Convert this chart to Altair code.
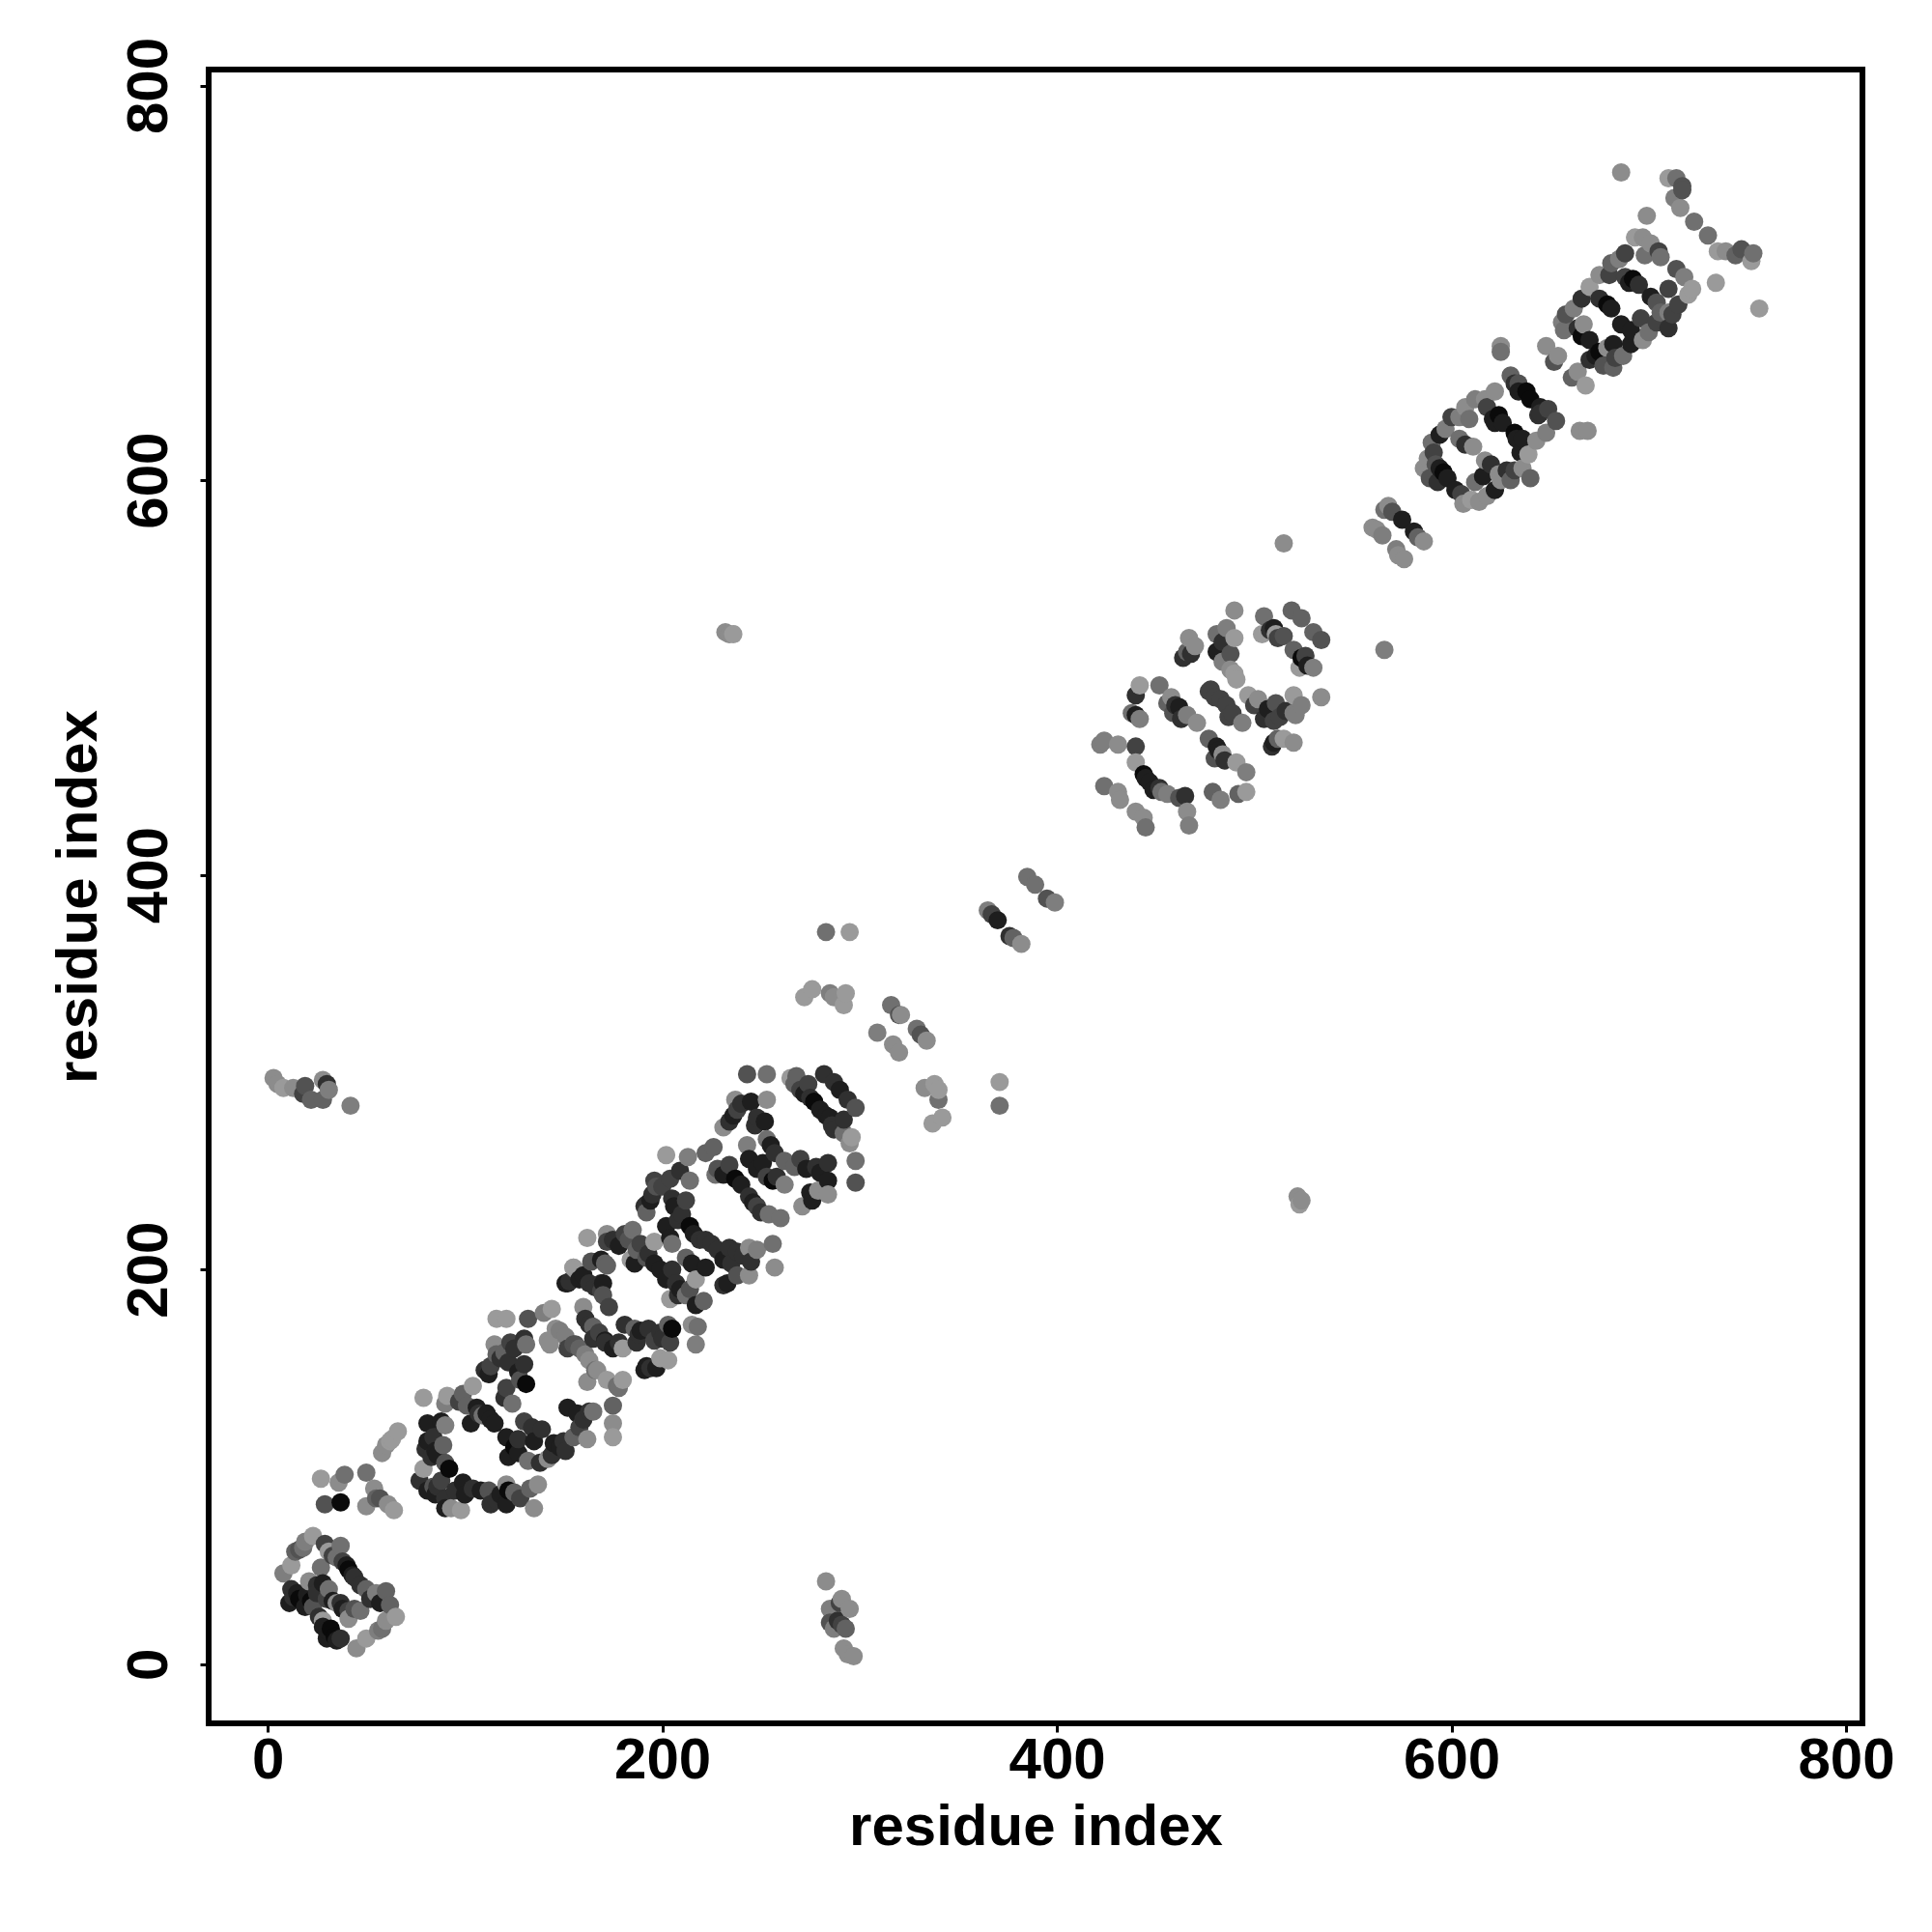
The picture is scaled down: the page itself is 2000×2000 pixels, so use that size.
import altair as alt
import pandas as pd

# contact points as (residue i, residue j, grey step 0-9)
box_a = [(23,65,9),(19,62,7),(18,59,6),(29,61,3),(31,57,9),(37,60,6),(35,54,6),(38,52,3),(41,48,0),
 (47,40,2),(50,38,5),(55,36,7),(60,37,5),(57,31,1),(62,30,5),(65,24,9),(60,22,8),(58,18,6),(56,17,7),
 (12,50,9),(8,46,7),(27,49,6),(21,42,8),(25,40,2),(28,41,1),(31,38,6),(25,36,2),(35,31,8),(37,31,2),
 (41,27,3),(47,27,6),(41,23,8),(38,28,1),(12,38,2),(11,31,1),(16,33,0),(13,34,2),(23,29,4),(19,29,1),
 (28,22,9),(28,19,1),(32,18,0),(30,13,1),(37,13,2),(34,14,0),(50,13,9),(45,8,8),
 (44,44,2),(43,45,1),(33,55,3),(40,50,1),(52,33,2),(20,35,1),(15,36,1),(22,32,0),(30,33,3),(33,32,1),
 (44,28,4),(26,24,2),(30,17,1),(35,12,1),(14,57,5),(16,58,4)]
box_b = [(27,94,9),(29,81,4),(37,82,0),(36,92,8),(39,96,6),(50,97,6),(50,80,8),(54,89,8),(55,84,5),(57,84,4),
 (61,81,8),(64,78,9),(58,107,8),(60,111,8),(63,114,9),(66,118,9),(62,113,9)]
loop_c = [(79,135,9),(91,136,9),(90,132,7),(104,141,9),(99,137,5),(81,122,1),(88,123,1),(90,121,7),(81,113,1),
 (80,109,2),(89,111,5),(83,105,2),(90,102,4),(92,99,0),(79,99,9),(77,93,2),(84,90,4),(81,88,1),(90,84,2),
 (93,79,8),(98,78,9),(90,79,1),(99,92,1),(104,89,2),(108,88,1),(112,88,4),(113,81,2),(121,81,1),(121,91,8),
 (125,87,5),(122,88,0),(133,89,5),(137,91,8),(135,79,8),(101,131,5),(106,130,1),(111,127,1),(115,122,1),
 (103,122,1),(109,126,6),(121,140,3),(120,135,2),(124,132,6),(121,115,1),(125,110,0),(122,105,1),(132,103,6),
 (142,104,8),(138,102,2),(130,123,3),(134,120,2),(139,119,2),(148,110,1),(155,115,5),(162,114,8),(151,108,2),
 (158,120,3),(152,130,1),(163,128,2),(165,128,6),(175,131,5),(175,122,8),(175,115,9),
 (85,108,1),(86,106,1),(84,115,2),(88,93,3),(95,88,2),(100,86,1),(116,83,2),(118,86,1),(128,84,3),(107,127,2),
 (113,124,1),(97,133,3),(127,107,1),(127,114,2),(144,106,2),(145,112,1),(150,113,2),(160,124,2),(157,127,1),
 (135,113,1),(86,90,2),(85,86,1)]
loop_d = [(116,175,9),(121,175,9),(132,175,4),(144,180,9),(140,178,7),(113,151,3),(110,149,2),(116,157,5),(123,163,3),
 (130,165,2),(131,162,6),(115,162,8),(122,153,2),(130,152,2),(131,142,0),(128,144,4),(142,164,8),(146,170,8),
 (151,166,7),(156,162,4),(163,154,8),(161,157,7),(167,149,8),(172,144,9),(180,144,9),(177,141,6),(161,175,2),
 (165,171,5),(160,181,8),(171,164,1),(175,160,1),(180,160,9),(173,181,3),(169,193,2),(155,201,9),(151,193,1),(172,202,5),
 (148,169,7),(143,162,8),(155,162,4),(166,149,6),(162,143,8),(178,140,6),(171,163,2),(181,172,2),(186,170,5),
 (193,170,2),(189,169,1),(205,170,0),(203,172,5),(204,163,3),(196,164,3),(192,151,1),(191,149,1),(194,150,2),
 (199,155,9),(203,154,9),(218,171,6),(217,162,7),(215,172,8),
 (118,155,2),(112,147,1),(125,160,2),(127,148,1),(152,160,3),(158,160,5),(187,163,2),(188,167,2),(199,168,2),
 (197,150,1),(200,165,2),(165,165,2),(168,168,3),(178,163,2),(163,172,2),(120,158,5)]
loop_e = [(162,216,9),(172,218,8),(172,214,3),(185,220,6),(181,218,3),(189,213,3),(187,210,5),(196,203,1),(192,206,4),
 (184,205,9),(186,203,1),(202,222,1),(205,213,6),(196,214,9),(204,216,1),(202,195,1),(207,193,2),(204,185,9),
 (212,187,6),(217,195,9),(221,184,5),(217,182,1),(215,203,1),(212,206,5),(222,201,1),(155,201,9),(152,193,1),
 (156,200,9),(153,194,2),(164,204,4),(171,203,5),(169,205,1),(163,193,2),(170,193,1),(169,189,3),(170,187,4),
 (212,235,3),(214,222,0),(210,228,2),(205,236,2),(214,245,6),(209,250,2),(213,257,7),(202,258,9),(196,245,3),
 (192,233,2),(191,232,2),(197,242,4),(192,229,5),(204,246,3),(222,215,2),(228,210,2),(234,211,2),(235,203,2),
 (245,204,2),(248,210,7),(256,213,6),(257,201,8),(244,211,8),(233,193,1),(231,192,2),(238,197,4),(244,197,8),
 (160,197,1),(158,195,1),(166,191,2),(175,215,2),(178,212,1),(183,215,4),(193,208,2),(199,200,1),(205,200,2),
 (208,187,2),(209,190,1),(214,190,4),(206,232,1),(208,225,2),(216,218,1),(219,215,2),(225,213,2),(231,205,1),
 (241,207,2),(238,209,2),(194,235,1),(195,238,2),(200,242,3)]
loop_f = [(226,262,5),(222,259,5),(228,251,4),(231,248,1),(237,246,0),(227,248,6),(244,237,2),(248,232,3),(254,228,6),
 (260,226,6),(243,263,7),(244,256,1),(251,254,1),(256,245,0),(262,243,7),(253,247,3),(245,285,1),(238,281,3),
 (234,275,2),(231,272,8),(237,286,8),(253,286,8),(252,275,1),(255,263,1),(253,266,6),(248,277,2),(262,255,5),
 (267,252,5),(273,251,1),(278,252,2),(284,254,2),(298,255,6),(298,244,4),(284,245,1),(284,238,8),(271,232,8),
 (276,235,1),(279,240,8),(243,299,4),(253,299,6),(265,297,9),(267,294,5),(272,289,1),(277,285,0),(270,291,3),
 (282,299,2),(287,295,2),(294,286,2),(298,282,4),(296,267,9),(295,264,8),(292,269,6),(285,277,1),(283,278,1),(287,271,2),
 (234,253,3),(240,243,1),(246,234,1),(250,229,2),(248,251,1),(258,247,2),(236,278,1),(240,284,2),(247,273,2),
 (257,259,2),(270,256,3),(280,249,1),(275,239,1),(268,298,5),(275,287,2),(290,291,1),(292,276,2),(274,294,3),
 (280,281,1),(286,273,2)]
mid_g = [(283,371,6),(295,371,9),(272,338,9),(276,342,9),(285,340,7),(287,338,8),(293,340,9),(292,334,9),
 (316,334,6),(320,329,4),(321,329,8),(309,320,7),(320,310,8),(317,314,8),(329,322,6),(331,319,4),(334,316,8),
 (333,292,8),(338,294,9),(340,286,6),(337,274,9),(342,277,9),(340,291,9),(371,295,9),(371,283,6),
 (385,399,6),(389,395,6),(395,388,4),(399,386,7),(365,382,7),(367,380,3),(370,377,1),(376,369,2),(382,365,8),(378,368,5)]
far_h = [(3,297,8),(5,294,8),(8,292,9),(13,292,8),(19,293,4),(18,289,3),(22,286,5),(28,296,8),(30,294,2),(31,291,7),
 (28,286,5),(42,283,7),(283,42,8),(285,28,7),(290,31,3),(291,33,8),(295,28,8),(285,21,4),(289,22,2),(293,18,5),
 (287,18,7),(291,20,3),(292,8,8),(294,5,8),(297,4,8),(232,523,8),(234,522,8),(236,522,9),(522,237,8),(524,235,8),(523,233,9)]
loop_i = [(490,534,8),(505,531,6),(504,522,9),(510,525,1),(511,522,9),(515,521,4),(519,534,5),(524,530,5),(530,523,5),
 (534,519,4),(520,514,5),(524,510,0),(523,505,9),(530,505,7),(467,520,8),(470,516,8),(464,510,2),(466,513,5),
 (481,522,6),(486,525,7),(490,520,9),(481,513,1),(488,512,4),(484,508,7),(488,504,8),(491,499,9),(490,502,9),
 (480,490,3),(477,493,3),(483,489,3),(489,482,3),(494,477,7),(487,480,3),(477,469,5),(481,465,1),(484,461,8),
 (480,459,4),(491,457,9),(496,452,7),(497,491,9),(502,489,8),(507,484,1),(511,487,4),(513,480,3),(520,482,7),
 (524,486,7),(520,491,9),(521,481,7),(534,490,8),(509,465,2),(512,469,5),(520,467,8),(515,469,9),(479,442,5),
 (483,438,7),(492,441,5),(496,442,9),(442,496,9),(440,491,2),(438,482,6),(442,479,7),(440,481,1),(452,496,6),
 (458,490,8),(462,485,1),(466,481,7),(471,477,8),(459,482,4),(424,468,7),(431,466,8),(422,466,7),(440,465,3),
 (440,457,9),(444,451,0),(449,443,1),(456,441,7),(465,440,2),(462,439,4),(453,442,6),(424,445,6),(431,442,8),
 (432,438,8),(440,432,8),(444,429,8),(445,424,6),(466,432,8),(467,425,7),
 (468,512,2),(484,518,2),(478,494,3),(486,486,3),(482,463,1),(485,458,2),(500,486,3),(505,479,2),(510,478,3),
 (516,483,2),(508,524,2),(512,520,3),(527,506,1),(526,511,3),(447,447,1),(460,486,2),(463,479,2),(456,487,5),
 (510,467,1),(445,449,1),(452,444,2)]
pair_j = [(568,587,8),(566,585,6),(570,584,4),(575,580,1),(581,574,1),(583,571,5),(586,569,8),(560,576,8),(562,575,8),
 (565,572,7),(572,565,7),(573,562,8),(576,560,8),(515,568,8),(566,514,7)]
loop_k = [(686,756,8),(710,753,9),(714,753,6),(717,749,4),(713,743,7),(716,738,8),(717,747,4),(699,734,8),(723,731,6),
 (730,724,6),(735,716,9),(739,716,8),(744,714,5),(747,717,4),(753,715,6),(752,711,9),(734,700,9),(756,687,9),
 (693,723,9),(697,723,8),(701,720,8),(706,713,6),(705,716,3),(688,715,3),(685,712,7),(675,704,8),(680,704,3),
 (670,698,9),(666,692,2),(692,702,0),(688,703,3),(714,707,4),(718,703,7),(722,697,9),(720,694,9),(715,689,3),
 (710,685,7),(706,685,5),(701,693,1),(704,690,4),(704,680,3),(700,675,6),(697,671,8),(691,669,1),(691,676,1),
 (686,679,1),(679,689,0),(675,692,2),(662,687,7),(658,684,4),(656,680,7),(667,679,8),(666,673,0),(657,676,6),
 (675,665,0),(679,667,8),(683,662,3),(687,663,6),(682,657,5),(677,658,4),(673,663,1),(648,668,8),(654,663,8),
 (652,660,4),(661,652,5),(664,655,8),(668,648,9),(625,668,8),(625,665,6),(665,625,8),(669,625,8),
 (682,669,1),(670,661,2),(670,671,1),(690,700,1),(695,699,2),(681,687,1),(664,677,2),(710,677,2),(696,682,3),
 (710,697,3),(712,684,3),(698,714,6),(681,710,5)]
loop_l = [(630,653,5),(634,649,4),(638,645,0),(645,637,1),(649,636,3),(653,630,4),(644,633,2),(622,645,8),(617,641,8),
 (612,641,7),(607,637,8),(604,632,7),(600,632,3),(597,626,7),(594,623,1),(618,637,3),(624,633,0),(621,631,1),
 (632,624,0),(636,621,1),(643,620,8),(648,624,7),(639,613,9),(635,614,1),(611,617,8),(607,618,2),(604,621,6),
 (590,619,6),(588,611,8),(591,614,3),(596,604,0),(592,608,4),(586,606,8),(589,601,4),(617,610,8),(620,608,2),
 (624,603,8),(632,605,3),(636,606,8),(630,600,5),(622,595,1),(618,592,8),(614,589,8),(610,590,9),(606,588,8),
 (602,595,1),(605,593,3),(625,600,8),
 (634,645,1),(632,649,2),(640,641,0),(645,634,2),(626,629,1),(616,602,1),(598,601,1),(594,606,1),(593,599,2),
 (640,601,5),(628,605,2),(622,629,1),(612,599,6),(609,631,6),(633,621,1)]

grey_steps = ["#0a0a0a", "#1e1e1e", "#303030", "#424242", "#525252", "#626262", "#707070", "#7e7e7e", "#8c8c8c", "#9a9a9a"]

clusters = [box_a, box_b, loop_c, loop_d, loop_e, loop_f, mid_g, far_h, loop_i, pair_j, loop_k, loop_l]
rows = [p for c in clusters for p in c]
df = pd.DataFrame(rows, columns=["i", "j", "d"])
df["grey"] = df["d"].map(lambda d: grey_steps[d])
df = df.sort_values("i", kind="stable")

ticks = [0, 200, 400, 600, 800]
font = "Liberation Sans"

x_axis = alt.Axis(values=ticks, grid=False, domain=False, tickSize=9, tickWidth=3, tickColor="black",
                  labelFont=font, labelFontSize=60, labelFontWeight="bold", labelColor="black",
                  labelBaseline="alphabetic", labelPadding=47, labelFlush=False, labelOverlap=False,
                  title="residue index", titleFont=font, titleFontSize=60, titleFontWeight="bold",
                  titleColor="black", titleX=856, titleY=125, titleAlign="center", titleBaseline="alphabetic")
y_axis = alt.Axis(values=ticks, grid=False, domain=False, tickSize=9, tickWidth=3, tickColor="black",
                  labelFont=font, labelFontSize=60, labelFontWeight="bold", labelColor="black",
                  labelAngle=270, labelAlign="center", labelBaseline="alphabetic", labelPadding=35,
                  labelFlush=False, labelOverlap=False,
                  title="residue index", titleFont=font, titleFontSize=60, titleFontWeight="bold",
                  titleColor="black", titleX=-117, titleY=856, titleAngle=270, titleAlign="center",
                  titleBaseline="alphabetic")

chart = alt.Chart(df).mark_circle(size=360, opacity=1, strokeWidth=0).encode(
    x=alt.X("i:Q", scale=alt.Scale(domain=[-29.9, 808.3], nice=False, zero=False), axis=x_axis),
    y=alt.Y("j:Q", scale=alt.Scale(domain=[-30, 808.1], nice=False, zero=False), axis=y_axis),
    color=alt.Color("grey:N", scale=None),
).properties(
    width=1712, height=1712, autosize="none",
    padding={"left": 208, "top": 64, "right": 60, "bottom": 200},
).configure_view(stroke="black", strokeWidth=6)

chart.save("out.html", embed_options={"renderer": "svg", "actions": False})
